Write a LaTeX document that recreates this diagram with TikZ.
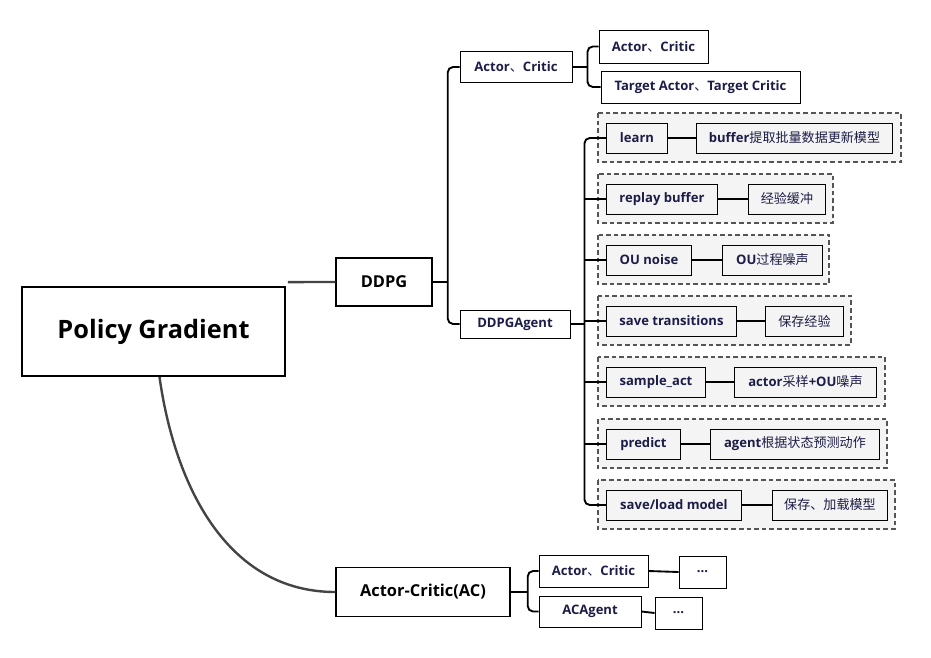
\documentclass[tikz,border=0pt]{standalone}
\usepackage{fontspec}
\setmainfont{Open Sans}
\newfontfamily\cjkfont{Noto Sans CJK SC}
\newcommand{\cjk}[1]{{\cjkfont\mdseries #1}}
\usepackage{xcolor}
\usepackage{tikz}
\usetikzlibrary{positioning,calc}
\definecolor{PGNavy}{RGB}{28,28,72}
\definecolor{PGGray}{RGB}{244,244,244}
\definecolor{PGDash}{RGB}{85,85,85}
\definecolor{PGDark}{RGB}{68,68,68}
\tikzset{
    mainnode/.style={rectangle, draw=black, line width=1.1pt, fill=white, inner sep=0pt, font=\bfseries\fontsize{12.3}{14}\selectfont},
    subnode/.style={rectangle, draw=black, line width=0.7pt, fill=white, text=PGNavy, inner sep=0pt, font=\bfseries\fontsize{9.8}{11}\selectfont},
    itemnode/.style={subnode, fill=PGGray},
    wd/.style={minimum width=#1*0.75pt},
    ht/.style={minimum height=#1*0.75pt}
}

\begin{document}
\begin{tikzpicture}[
        x=0.75pt, y=-0.75pt,
        % Style cho khung nét đứt
        groupbox/.style={
            draw=PGDash,
            dashed, dash pattern=on 3.5pt off 2.2pt,
            line width=1.1pt,
            fill=PGGray
        },
        % Style cho đường nối
        link/.style={
            draw=black,
            line width=1.4pt,
            rounded corners=4pt
        },
        rootlink/.style={
            draw=PGDark,
            line width=1.8pt
        }
    ]
    \useasboundingbox (0,0) rectangle (931,657);

    % --- NÚT GỐC ---
    \node[mainnode, wd=263, ht=89, line width=1.4pt, font=\bfseries\fontsize{19}{22}\selectfont] (root) at (153.5,331.5) {Policy Gradient};
    \node[mainnode, wd=96, ht=48] (ddpg) at (384,282) {DDPG};
    \node[mainnode, wd=174, ht=49] (acmain) at (423,592) {Actor-Critic(AC)};

    % --- NHÁNH DDPG ---
    \node[subnode, wd=112, ht=31] (dac) at (516,67) {Actor\cjk{、}Critic};
    \node[subnode, wd=110, ht=28] (dagent) at (515,324) {DDPGAgent};
    \node[subnode, wd=109, ht=33] (a1) at (653.5,46.5) {Actor\cjk{、}Critic};
    \node[subnode, wd=199, ht=32] (a2) at (700.5,87) {Target Actor\cjk{、}Target Critic};

    % --- CÁC HÀNG CỦA DDPGAgent ---
    \foreach \i/\y/\lw/\lt/\rx/\rw/\rt/\gr in {
        1/138/61/learn/696/196/{buffer\cjk{提取批量数据更新模型}}/901,
        2/199/111/replay buffer/748/77/{\cjk{经验缓冲}}/833,
        3/260/85/OU noise/722/100/{OU\cjk{过程噪声}}/829,
        4/321/130/save transitions/765/78/{\cjk{保存经验}}/851,
        5/382/99/sample\_act/734/142/{actor\cjk{采样}+OU\cjk{噪声}}/885,
        6/444/74/predict/710/169/{agent\cjk{根据状态预测动作}}/887,
        7/505/135/{save/load model}/772/115/{\cjk{保存、加载模型}}/895} {
        \path[groupbox] (598,\y-25) rectangle (\gr,\y+24);
        \node[itemnode, wd=\lw, ht=30, anchor=west] (L\i) at (606,\y) {\lt};
        \node[itemnode, wd=\rw, ht=30, anchor=west] (R\i) at (\rx,\y) {\rt};
        \draw[link] (L\i.east) -- (R\i.west);
    }

    % --- NHÁNH Actor-Critic(AC) ---
    \node[subnode, wd=109, ht=32] (acc1) at (593.5,571) {Actor\cjk{、}Critic};
    \node[subnode, wd=102, ht=31] (acc2) at (590,611.5) {ACAgent};
    \node[subnode, wd=47, ht=32] (ell1) at (702.5,572) {...};
    \node[subnode, wd=47, ht=32] (ell2) at (678.5,613) {...};

    % --- ĐƯỜNG NỐI ---
    \draw[rootlink] ($(root.north east)+(2,-4)$) -- (ddpg.west);
    \draw[rootlink] ($(root.south)+(6,0)$) to[out=-82, in=180] (acmain.west);

    \coordinate (ddpgj) at ($(ddpg.east)+(15,0)$);
    \draw[link] (ddpg.east) -- (ddpgj);
    \draw[link] (dac.west) -| (ddpgj) |- (dagent.west);

    \coordinate (dacj) at ($(dac.east)+(15,0)$);
    \draw[link] (dac.east) -- (dacj);
    \draw[link] (a1.west) -| (dacj) |- (a2.west);

    \coordinate (agentj) at ($(dagent.east)+(14,0)$);
    \draw[link] (dagent.east) -- (agentj);
    \draw[link] (L1.west) -| (agentj) |- (L7.west);
    \foreach \i in {2,...,6} {
        \draw[link] (agentj |- L\i.west) -- (L\i.west);
    }

    \coordinate (acj) at ($(acmain.east)+(17,0)$);
    \draw[link] (acmain.east) -- (acj);
    \draw[link] (acc1.west) -| (acj) |- (acc2.west);
    \draw[link] (acc1.east) -- (ell1.west);
    \draw[link] (acc2.east) -- (ell2.west);

\end{tikzpicture}
\end{document}
